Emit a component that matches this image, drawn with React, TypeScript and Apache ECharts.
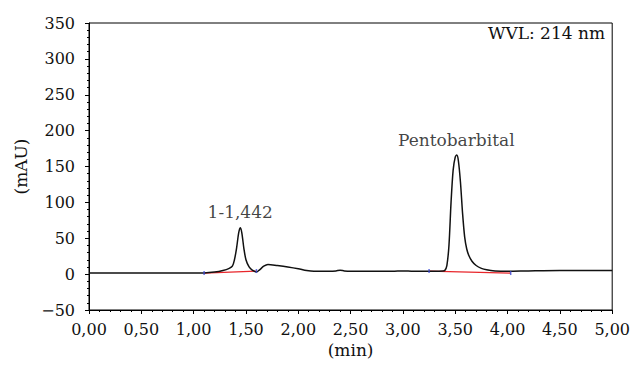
import React, { useEffect, useRef } from "react";
import * as echarts from "echarts";

// Chromatogram trace: [time (min), absorbance (mAU)]
const traceTimes = [
  0, 0.5, 1.0, 1.1, 1.2, 1.28, 1.34, 1.37, 1.39, 1.41, 1.43, 1.445, 1.46, 1.48, 1.5, 1.53, 1.56, 1.6,
  1.63, 1.67, 1.71, 1.8, 1.9, 2.0, 2.08, 2.15, 2.3, 2.36, 2.4, 2.44, 2.5, 2.9, 3.0, 3.1, 3.3, 3.38,
  3.4, 3.42, 3.44, 3.46, 3.48, 3.5, 3.515, 3.53, 3.55, 3.57, 3.59, 3.61, 3.63, 3.66, 3.7, 3.75, 3.8,
  3.88, 4.0, 4.2, 4.5, 5.0,
];
const traceValues = [
  1.5, 1.5, 1.5, 1.6, 2.8, 5, 8, 11, 20, 36, 57, 64.5, 58, 36, 20, 10, 5.5, 3,
  6, 11, 13.5, 12, 10, 7.5, 5, 4, 4, 4.5, 5.5, 4.5, 4, 4, 4.5, 4, 4, 4.3,
  5, 12, 40, 100, 145, 163, 166, 158, 128, 85, 52, 35, 26, 18, 12, 8, 6,
  4.5, 4, 4.5, 5, 5,
];

// Integration baselines (start/end points)
const baseline1 = [[1.1, 1.5], [1.6, 4.3]];
const baseline2 = [[3.25, 4.3], [4.03, 1.5]];

// Peak annotations
const peakLabels = [
  { time: 1.445, value: 64.5, name: "1-1,442" },
  { time: 3.51, value: 166, name: "Pentobarbital" },
];

const xMin = 0;
const xMax = 5;
const xInterval = 0.5;
const yMin = -50;
const yMax = 350;
const yInterval = 50;
const xName = "(min)";
const yName = "(mAU)";
const wavelengthText = "WVL: 214 nm";

const FONT = "DejaVu Serif";
const TEXT = "#111";

export default function App() {
  const ref = useRef<HTMLDivElement>(null);

  useEffect(() => {
    if (!ref.current) return;
    const chart = echarts.init(ref.current, undefined, { renderer: "svg" });
    const trace = traceTimes.map((t, i) => [t, traceValues[i]]);
    const endPoints = [...baseline1, ...baseline2];

    chart.setOption({
      animation: false,
      backgroundColor: "#fff",
      textStyle: { fontFamily: FONT },
      grid: {
        left: 89,
        right: 20,
        top: 23,
        height: 287,
        show: true,
        borderColor: "#000",
        borderWidth: 1,
      },
      xAxis: {
        type: "value",
        min: xMin,
        max: xMax,
        interval: xInterval,
        name: xName,
        nameLocation: "middle",
        nameGap: 31,
        nameTextStyle: { fontFamily: FONT, fontSize: 17, color: TEXT },
        axisLine: { show: true, onZero: false, lineStyle: { color: "#000", width: 1 } },
        axisTick: { show: true, inside: false, length: 4, lineStyle: { color: "#000" } },
        minorTick: { show: true, splitNumber: 5, length: 2, lineStyle: { color: "#000" } },
        splitLine: { show: false },
        minorSplitLine: { show: false },
        axisLabel: {
          margin: 11,
          fontFamily: FONT,
          fontSize: 16,
          color: TEXT,
          formatter: (v: number) => v.toFixed(2).replace(".", ","),
        },
      },
      yAxis: {
        type: "value",
        min: yMin,
        max: yMax,
        interval: yInterval,
        name: yName,
        nameLocation: "middle",
        nameGap: 60,
        nameRotate: 90,
        nameTextStyle: { fontFamily: FONT, fontSize: 17, color: TEXT },
        axisLine: { show: true, onZero: false, lineStyle: { color: "#000", width: 1 } },
        axisTick: { show: true, inside: false, length: 4, lineStyle: { color: "#000" } },
        minorTick: { show: true, splitNumber: 5, length: 2, lineStyle: { color: "#000" } },
        splitLine: { show: false },
        minorSplitLine: { show: false },
        axisLabel: {
          margin: 14,
          fontFamily: FONT,
          fontSize: 16,
          color: TEXT,
          formatter: (v: number) => (v < 0 ? "\u2212" + Math.abs(v) : String(v)),
        },
      },
      graphic: [
        {
          type: "text",
          right: 28,
          top: 24,
          style: {
            text: wavelengthText,
            fontFamily: FONT,
            fontSize: 17,
            fill: TEXT,
          },
        },
      ],
      series: [
        {
          type: "line",
          name: "baseline1",
          data: baseline1,
          symbol: "none",
          lineStyle: { color: "#e8262b", width: 1.3 },
          z: 3,
        },
        {
          type: "line",
          name: "baseline2",
          data: baseline2,
          symbol: "none",
          lineStyle: { color: "#e8262b", width: 1.3 },
          z: 3,
        },
        {
          type: "line",
          name: "trace",
          data: trace,
          symbol: "none",
          smooth: 0.3,
          lineStyle: { color: "#111", width: 1.5 },
          z: 4,
        },
        {
          type: "scatter",
          name: "ends",
          data: endPoints,
          symbol: "rect",
          symbolSize: [1.5, 4],
          itemStyle: { color: "#3b4bd8" },
          z: 5,
        },
        {
          type: "scatter",
          name: "labels",
          data: peakLabels.map((p) => ({ value: [p.time, p.value], name: p.name })),
          symbolSize: 0,
          label: {
            show: true,
            position: "top",
            distance: 7,
            formatter: (p: any) => p.name,
            fontFamily: FONT,
            fontSize: 17,
            color: TEXT,
          },
          z: 6,
        },
      ],
    });

    return () => chart.dispose();
  }, []);

  return (
    <div
      ref={ref}
      style={{ position: "fixed", left: 0, top: 0, width: 633, height: 371 }}
    />
  );
}
